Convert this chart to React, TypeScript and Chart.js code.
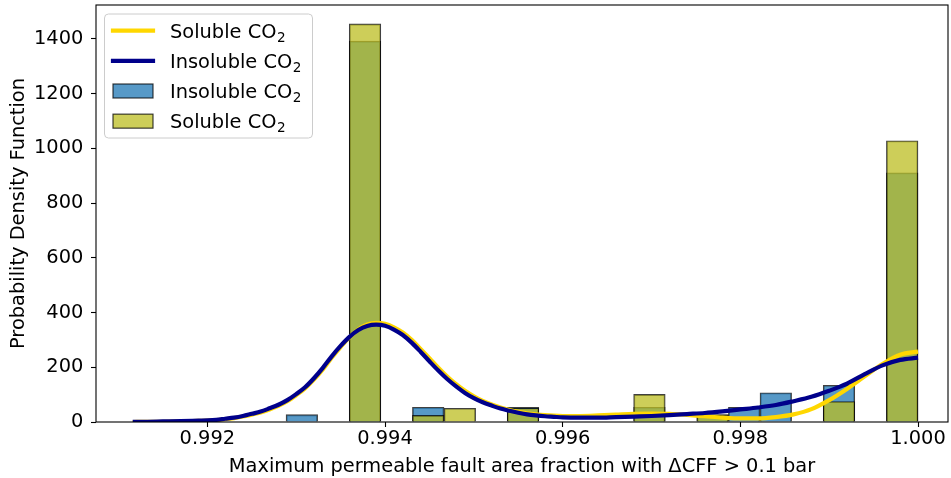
import { useEffect, useRef } from "react";
import { Chart, registerables } from "chart.js";

Chart.register(...registerables);

const FONT = "DejaVu Sans";
const FONT_SIZE = 19.4;

// Shared histogram bins: 20 bins ending at 1.000
const BIN_START = 0.992886;
const BIN_WIDTH = 0.0003557;
const INSOLUBLE_DENSITY = [27, 0, 1392, 0, 54, 0, 0, 54, 0, 0, 0, 54, 0, 27, 54, 107, 0, 134, 0, 911];
const SOLUBLE_DENSITY = [0, 0, 1455, 0, 24, 50, 0, 51, 0, 0, 0, 101, 0, 26, 0, 0, 0, 75, 0, 1028];

// Kernel density estimates, sampled along the fraction axis
const KDE_X = [
  0.99116, 0.9913, 0.9915, 0.9917, 0.9919,
  0.992, 0.9921, 0.9922, 0.9923, 0.9924, 0.9925, 0.9926, 0.9927, 0.9928, 0.9929,
  0.993, 0.9931, 0.9932, 0.9933, 0.9934, 0.9935, 0.9936, 0.9937, 0.9938, 0.9939,
  0.994, 0.9941, 0.9942, 0.9943, 0.9944, 0.9945, 0.9946, 0.9947, 0.9948, 0.9949,
  0.995, 0.9951, 0.9952, 0.9953, 0.9954, 0.9955, 0.9956, 0.9957, 0.9958, 0.9959,
  0.996,
  0.9962, 0.9964, 0.9966, 0.9968, 0.997, 0.9972, 0.9974, 0.9976, 0.9978, 0.998,
  0.9982, 0.9984, 0.9986, 0.9988, 0.999, 0.9992, 0.9994, 0.9996, 0.9998, 1.0,
];
const KDE_INSOLUBLE = [
  1, 1, 2, 3, 5,
  6, 8, 12, 16, 22, 30, 38, 50, 63, 80,
  102, 127, 160, 198, 240, 278, 311, 336, 351, 356,
  352, 338, 318, 290, 257, 222, 188, 157, 130, 106,
  87, 72, 60, 49, 41, 34, 28, 24, 21, 19,
  17,
  16, 16, 18, 20, 22, 25, 29, 33, 39, 46,
  53, 62, 76, 92, 114, 140, 175, 207, 227, 235,
];
const KDE_SOLUBLE = [
  0, 1, 1, 2, 4,
  5, 7, 10, 14, 20, 27, 35, 46, 59, 76,
  98, 123, 155, 192, 235, 274, 310, 338, 356, 362,
  359, 346, 327, 300, 267, 233, 198, 166, 138, 114,
  94, 77, 64, 53, 44, 37, 32, 28, 25, 23,
  22,
  22, 24, 27, 30, 31, 30, 26, 21, 16, 13,
  13, 18, 28, 47, 80, 121, 167, 212, 246, 257,
];

const X_TICKS = [0.992, 0.994, 0.996, 0.998, 1.0];
const Y_TICKS = [0, 200, 400, 600, 800, 1000, 1200, 1400];
const X_MIN = 0.9907467;
const X_MAX = 1.0003377;
const Y_MAX = 1524;

const X_TITLE = "Maximum permeable fault area fraction with \u0394CFF > 0.1 bar";
const Y_TITLE = "Probability Density Function";
const LABEL_SOLUBLE = "Soluble CO\u2082";
const LABEL_INSOLUBLE = "Insoluble CO\u2082";

const BLUE_FILL = "rgba(31, 119, 180, 0.75)";
const YELLOW_FILL = "rgba(188, 189, 34, 0.75)";
const EDGE = "rgba(0, 0, 0, 0.75)";
const KDE_BLUE = "#00008B";
const KDE_GOLD = "#FFD700";

// Axes frame drawn on all four sides
const framePlugin = {
  id: "axesFrame",
  afterDatasetsDraw(chart: any) {
    const { ctx, chartArea } = chart;
    ctx.save();
    ctx.strokeStyle = "#000";
    ctx.lineWidth = 1.1;
    ctx.strokeRect(chartArea.left, chartArea.top, chartArea.right - chartArea.left, chartArea.bottom - chartArea.top);
    ctx.restore();
  },
};

// Writes a label, setting a trailing subscript digit as a lowered, smaller glyph
function drawLabel(ctx: CanvasRenderingContext2D, text: string, x: number, y: number) {
  const sub = text.endsWith("\u2082");
  const base = sub ? text.slice(0, -1) : text;
  ctx.font = `${FONT_SIZE}px "${FONT}"`;
  ctx.fillText(base, x, y);
  if (sub) {
    const bw = ctx.measureText(base).width;
    ctx.font = `${FONT_SIZE * 0.7}px "${FONT}"`;
    ctx.fillText("2", x + bw + 0.5, y + 4.2);
  }
}

// Framed legend in the upper-left corner of the plot
const legendPlugin = {
  id: "framedLegend",
  afterDraw(chart: any) {
    const { ctx, chartArea } = chart;
    const ds = chart.data.datasets;
    const order = [1, 0, 3, 2];
    const x0 = chartArea.left + 8.5;
    const y0 = chartArea.top + 9;
    const w = 208;
    const h = 124;
    ctx.save();
    ctx.beginPath();
    ctx.roundRect(x0, y0, w, h, 4);
    ctx.fillStyle = "rgba(255,255,255,0.8)";
    ctx.fill();
    ctx.strokeStyle = "#cccccc";
    ctx.lineWidth = 1;
    ctx.stroke();
    ctx.textBaseline = "alphabetic";
    ctx.textAlign = "left";
    order.forEach((idx, row) => {
      const d = ds[idx];
      const cy = y0 + 16.7 + row * 30.15;
      const hx = x0 + 8.5;
      const hw = 40;
      if (d.type === "line") {
        ctx.beginPath();
        ctx.moveTo(hx, cy);
        ctx.lineTo(hx + hw, cy);
        ctx.lineCap = "square";
        ctx.strokeStyle = d.borderColor;
        ctx.lineWidth = d.borderWidth;
        ctx.stroke();
      } else {
        const rh = 14;
        ctx.fillStyle = d.backgroundColor;
        ctx.fillRect(hx, cy - rh / 2, hw, rh);
        ctx.strokeStyle = EDGE;
        ctx.lineWidth = 1.2;
        ctx.strokeRect(hx, cy - rh / 2, hw, rh);
      }
      ctx.fillStyle = "#000";
      drawLabel(ctx, d.label, x0 + 65.5, cy + 7);
    });
    ctx.restore();
  },
};

export default function App() {
  const ref = useRef<HTMLCanvasElement>(null);

  useEffect(() => {
    const canvas = ref.current;
    if (!canvas) return;
    const font = { family: FONT, size: FONT_SIZE };
    const binCenters = INSOLUBLE_DENSITY.map((_, i) => BIN_START + (i + 0.5) * BIN_WIDTH);
    const bars = (values: number[]) => values.map((v, i) => ({ x: binCenters[i], y: v }));
    const curve = (values: number[]) => values.map((v, i) => ({ x: KDE_X[i], y: v }));

    const chart = new Chart(canvas, {
      type: "bar",
      data: {
        datasets: [
          {
            type: "line",
            label: LABEL_INSOLUBLE,
            data: curve(KDE_INSOLUBLE),
            borderColor: KDE_BLUE,
            borderWidth: 4.2,
            pointRadius: 0,
            cubicInterpolationMode: "monotone",
            fill: false,
          },
          {
            type: "line",
            label: LABEL_SOLUBLE,
            data: curve(KDE_SOLUBLE),
            borderColor: KDE_GOLD,
            borderWidth: 4.2,
            pointRadius: 0,
            cubicInterpolationMode: "monotone",
            fill: false,
          },
          {
            type: "bar",
            label: LABEL_SOLUBLE,
            data: bars(SOLUBLE_DENSITY),
            backgroundColor: YELLOW_FILL,
            borderColor: EDGE,
            borderWidth: 1.2,
            grouped: false,
            barPercentage: 1,
            categoryPercentage: 1,
          },
          {
            type: "bar",
            label: LABEL_INSOLUBLE,
            data: bars(INSOLUBLE_DENSITY),
            backgroundColor: BLUE_FILL,
            borderColor: EDGE,
            borderWidth: 1.2,
            grouped: false,
            barPercentage: 1,
            categoryPercentage: 1,
          },
        ],
      } as any,
      options: {
        responsive: false,
        animation: false,
        devicePixelRatio: 1,
        events: [],
        layout: { padding: { top: 5, right: 3, left: 0, bottom: 0 } },
        plugins: { legend: { display: false }, tooltip: { enabled: false } },
        scales: {
          x: {
            type: "linear",
            min: X_MIN,
            max: X_MAX,
            offset: false,
            grid: {
              offset: false,
              drawOnChartArea: false,
              drawTicks: true,
              tickLength: 5,
              tickColor: "#000",
              tickWidth: 1.1,
            },
            border: { display: false },
            ticks: {
              font,
              color: "#000",
              padding: 0,
              autoSkip: false,
              maxRotation: 0,
              callback: (v: any) => Number(v).toFixed(3),
            },
            title: { display: true, text: X_TITLE, font, color: "#000", padding: { top: 0, bottom: -1 } },
            afterBuildTicks: (s: any) => {
              s.ticks = X_TICKS.map((value) => ({ value }));
            },
            afterFit: (s: any) => {
              s.height = 56;
              s.paddingLeft = 0;
              s.paddingRight = 0;
            },
          },
          y: {
            type: "linear",
            min: 0,
            max: Y_MAX,
            grid: {
              drawOnChartArea: false,
              drawTicks: true,
              tickLength: 5,
              tickColor: "#000",
              tickWidth: 1.1,
            },
            border: { display: false },
            ticks: {
              font,
              color: "#000",
              padding: 7.7,
              autoSkip: false,
              callback: (v: any) => String(v),
            },
            title: { display: true, text: Y_TITLE, font, color: "#000", padding: { top: 7.4, bottom: 0 } },
            afterBuildTicks: (s: any) => {
              s.ticks = Y_TICKS.map((value) => ({ value }));
            },
            afterFit: (s: any) => {
              s.width = 96;
              s.paddingTop = 0;
              s.paddingBottom = 0;
            },
          },
        },
      } as any,
      plugins: [framePlugin, legendPlugin],
    });
    return () => chart.destroy();
  }, []);

  return (
    <div style={{ position: "absolute", left: 0, top: 0, width: 951, height: 478, background: "#fff" }}>
      <canvas ref={ref} width={951} height={478} style={{ display: "block" }} />
    </div>
  );
}
